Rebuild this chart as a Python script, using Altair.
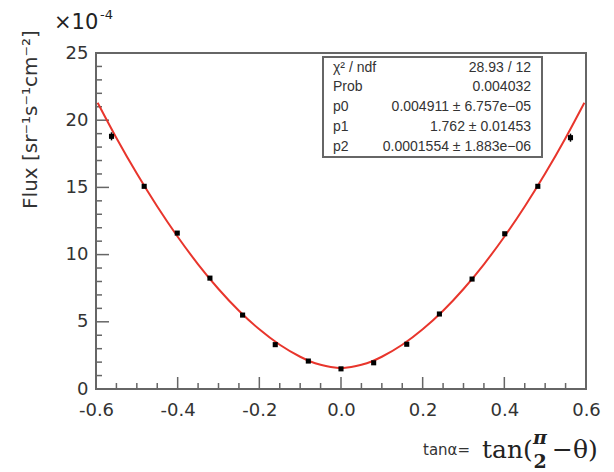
import altair as alt
import pandas as pd

# ---- data ----
pts_x = [-0.562, -0.482, -0.401, -0.321, -0.241, -0.161, -0.080, 0.0,
         0.080, 0.161, 0.241, 0.321, 0.401, 0.482, 0.562]
pts_y = [18.8, 15.08, 11.6, 8.25, 5.5, 3.3, 2.08, 1.5,
         1.95, 3.33, 5.58, 8.18, 11.55, 15.08, 18.7]
pts_err = [0.3, 0.12, 0.12, 0.1, 0.08, 0.07, 0.06, 0.06,
           0.06, 0.07, 0.08, 0.1, 0.12, 0.12, 0.3]

curve_x = [-0.596, -0.55, -0.5, -0.45, -0.4, -0.35, -0.3, -0.25, -0.2, -0.15,
           -0.1, -0.075, -0.05, -0.025, 0.0, 0.025, 0.05, 0.075, 0.1, 0.15, 0.2,
           0.25, 0.3, 0.35, 0.4, 0.45, 0.5, 0.55, 0.596]
curve_y = [21.3, 18.68, 16.03, 13.58, 11.33, 9.28, 7.44, 5.82, 4.44, 3.29,
           2.40, 2.05, 1.80, 1.63, 1.55, 1.63, 1.80, 2.05, 2.40, 3.29, 4.44,
           5.82, 7.44, 9.28, 11.33, 13.58, 16.03, 18.68, 21.3]

x_major = [-0.6, -0.4, -0.2, 0.0, 0.2, 0.4, 0.6]
x_minor = [-0.55, -0.5, -0.45, -0.35, -0.3, -0.25, -0.15, -0.1, -0.05,
           0.05, 0.1, 0.15, 0.25, 0.3, 0.35, 0.45, 0.5, 0.55]
y_major = [0, 5, 10, 15, 20, 25]
y_minor = [1, 2, 3, 4, 6, 7, 8, 9, 11, 12, 13, 14, 16, 17, 18, 19, 21, 22, 23, 24]

stat_names = ["χ² / ndf", "Prob", "p0", "p1", "p2"]
stat_values = ["28.93 / 12", "0.004032", "0.004911 ± 6.757e−05",
               "1.762 ± 0.01453", "0.0001554 ± 1.883e−06"]

W, H = 490, 336
xs = alt.Scale(domain=[-0.6, 0.6], nice=False, zero=False)
ys = alt.Scale(domain=[0, 25], nice=False, zero=False)

pts = pd.DataFrame({"x": pts_x, "y": pts_y, "e": pts_err})
pts["lo"] = pts["y"] - pts["e"]
pts["hi"] = pts["y"] + pts["e"]
curve = pd.DataFrame({"x": curve_x, "y": curve_y})

base_axes = alt.Chart(pd.DataFrame({"x": [0.0], "y": [0.0]})).mark_point(opacity=0).encode(
    x=alt.X("x:Q", scale=xs, axis=alt.Axis(values=x_major, format=".1f", labelFontSize=18,
            labelExpr="replace(datum.label, '\u2212', '-')",
            labelFont="DejaVu Sans", labelColor="#333", labelPadding=12, ticks=False,
            domain=False, grid=False, title=None, labelFlush=False)),
    y=alt.Y("y:Q", scale=ys, axis=alt.Axis(values=y_major, format="d", labelFontSize=18,
            labelFont="DejaVu Sans", labelColor="#333", labelPadding=8, ticks=False,
            domain=False, grid=False, title="Flux [sr⁻¹s⁻¹cm⁻²]", titleFontSize=20,
            titleFont="DejaVu Sans", titleColor="#333", titleFontWeight="normal",
            titleX=-66, titleY=66, titleAngle=270, titleAlign="center",
            titleBaseline="middle", labelFlush=False)),
)

tick_col = "#666"
xt_major = alt.Chart(pd.DataFrame({"v": x_major[1:-1]})).mark_rule(color=tick_col, strokeWidth=1.5).encode(
    x=alt.X("v:Q", scale=xs), y=alt.value(H), y2=alt.value(H - 12))
xt_minor = alt.Chart(pd.DataFrame({"v": x_minor})).mark_rule(color=tick_col, strokeWidth=1.5).encode(
    x=alt.X("v:Q", scale=xs), y=alt.value(H), y2=alt.value(H - 6))
yt_major = alt.Chart(pd.DataFrame({"v": y_major[1:-1]})).mark_rule(color=tick_col, strokeWidth=1.5).encode(
    y=alt.Y("v:Q", scale=ys), x=alt.value(0), x2=alt.value(13))
yt_minor = alt.Chart(pd.DataFrame({"v": y_minor})).mark_rule(color=tick_col, strokeWidth=1.5).encode(
    y=alt.Y("v:Q", scale=ys), x=alt.value(0), x2=alt.value(6))

line = alt.Chart(curve).mark_line(color="#e8352c", strokeWidth=2, interpolate="monotone").encode(
    x=alt.X("x:Q", scale=xs), y=alt.Y("y:Q", scale=ys))

err = alt.Chart(pts).mark_rule(color="black", strokeWidth=1.5).encode(
    x=alt.X("x:Q", scale=xs), y=alt.Y("lo:Q", scale=ys), y2="hi:Q")
dots = alt.Chart(pts).mark_point(filled=True, shape="square", size=26, color="black", opacity=1).encode(
    x=alt.X("x:Q", scale=xs), y=alt.Y("y:Q", scale=ys))

# stats box
box = alt.Chart(pd.DataFrame({"a": [0]})).mark_rect(fill="white", stroke="#666", strokeWidth=2).encode(
    x=alt.value(227), x2=alt.value(446), y=alt.value(4), y2=alt.value(104))
stats = pd.DataFrame({"name": stat_names, "val": stat_values, "row": list(range(len(stat_names)))})
stat_l = alt.Chart(stats).mark_text(align="left", baseline="middle", font="Liberation Sans",
                                    fontSize=14, color="#333").transform_calculate(
    py="14.5 + datum.row * 19.8").encode(x=alt.value(237), y=alt.Y("py:Q", scale=None), text="name:N")
stat_r = alt.Chart(stats).mark_text(align="right", baseline="middle", font="Liberation Sans",
                                    fontSize=14, color="#333").transform_calculate(
    py="14.5 + datum.row * 19.8").encode(x=alt.value(435), y=alt.Y("py:Q", scale=None), text="val:N")

# exponent label
expo = alt.Chart(pd.DataFrame({"t": ["×10"]})).mark_text(align="left", baseline="alphabetic",
    font="DejaVu Sans", fontSize=21, color="#222").encode(x=alt.value(-42), y=alt.value(-24), text="t:N")
expo2 = alt.Chart(pd.DataFrame({"t": ["-4"]})).mark_text(align="left", baseline="alphabetic",
    font="DejaVu Sans", fontSize=13, color="#222").encode(x=alt.value(4), y=alt.value(-34), text="t:N")

# x title pieces
xt1 = alt.Chart(pd.DataFrame({"t": ["tanα="]})).mark_text(align="left", baseline="alphabetic",
    font="DejaVu Sans", fontSize=15, color="#333").encode(x=alt.value(327), y=alt.value(402), text="t:N")
xt2 = alt.Chart(pd.DataFrame({"t": ["tan("]})).mark_text(align="left", baseline="alphabetic",
    font="DejaVu Serif", fontSize=25, color="#222").encode(x=alt.value(386), y=alt.value(405), text="t:N")
xt3 = alt.Chart(pd.DataFrame({"t": ["π"]})).mark_text(align="center", baseline="alphabetic",
    font="DejaVu Serif", fontSize=19, fontStyle="italic", fontWeight="bold", color="#222").encode(
    x=alt.value(444), y=alt.value(391), text="t:N")
xt4 = alt.Chart(pd.DataFrame({"t": ["2"]})).mark_text(align="center", baseline="alphabetic",
    font="DejaVu Serif", fontSize=19, fontWeight="bold", color="#222").encode(
    x=alt.value(444), y=alt.value(415), text="t:N")
xt5 = alt.Chart(pd.DataFrame({"t": ["−θ)"]})).mark_text(align="left", baseline="alphabetic",
    font="DejaVu Serif", fontSize=25, color="#222").encode(x=alt.value(456), y=alt.value(405), text="t:N")

chart = alt.layer(base_axes, xt_minor, xt_major, yt_minor, yt_major, line, err, dots,
                  box, stat_l, stat_r, expo, expo2, xt1, xt2, xt3, xt4, xt5).properties(
    width=W, height=H,
    autosize=alt.AutoSizeParams(type="none"),
    padding={"left": 96, "top": 53, "right": 28, "bottom": 83},
    background="white",
).configure_view(stroke="#666", strokeWidth=2)

chart.save("out.html", embed_options={"renderer": "svg", "actions": False})
